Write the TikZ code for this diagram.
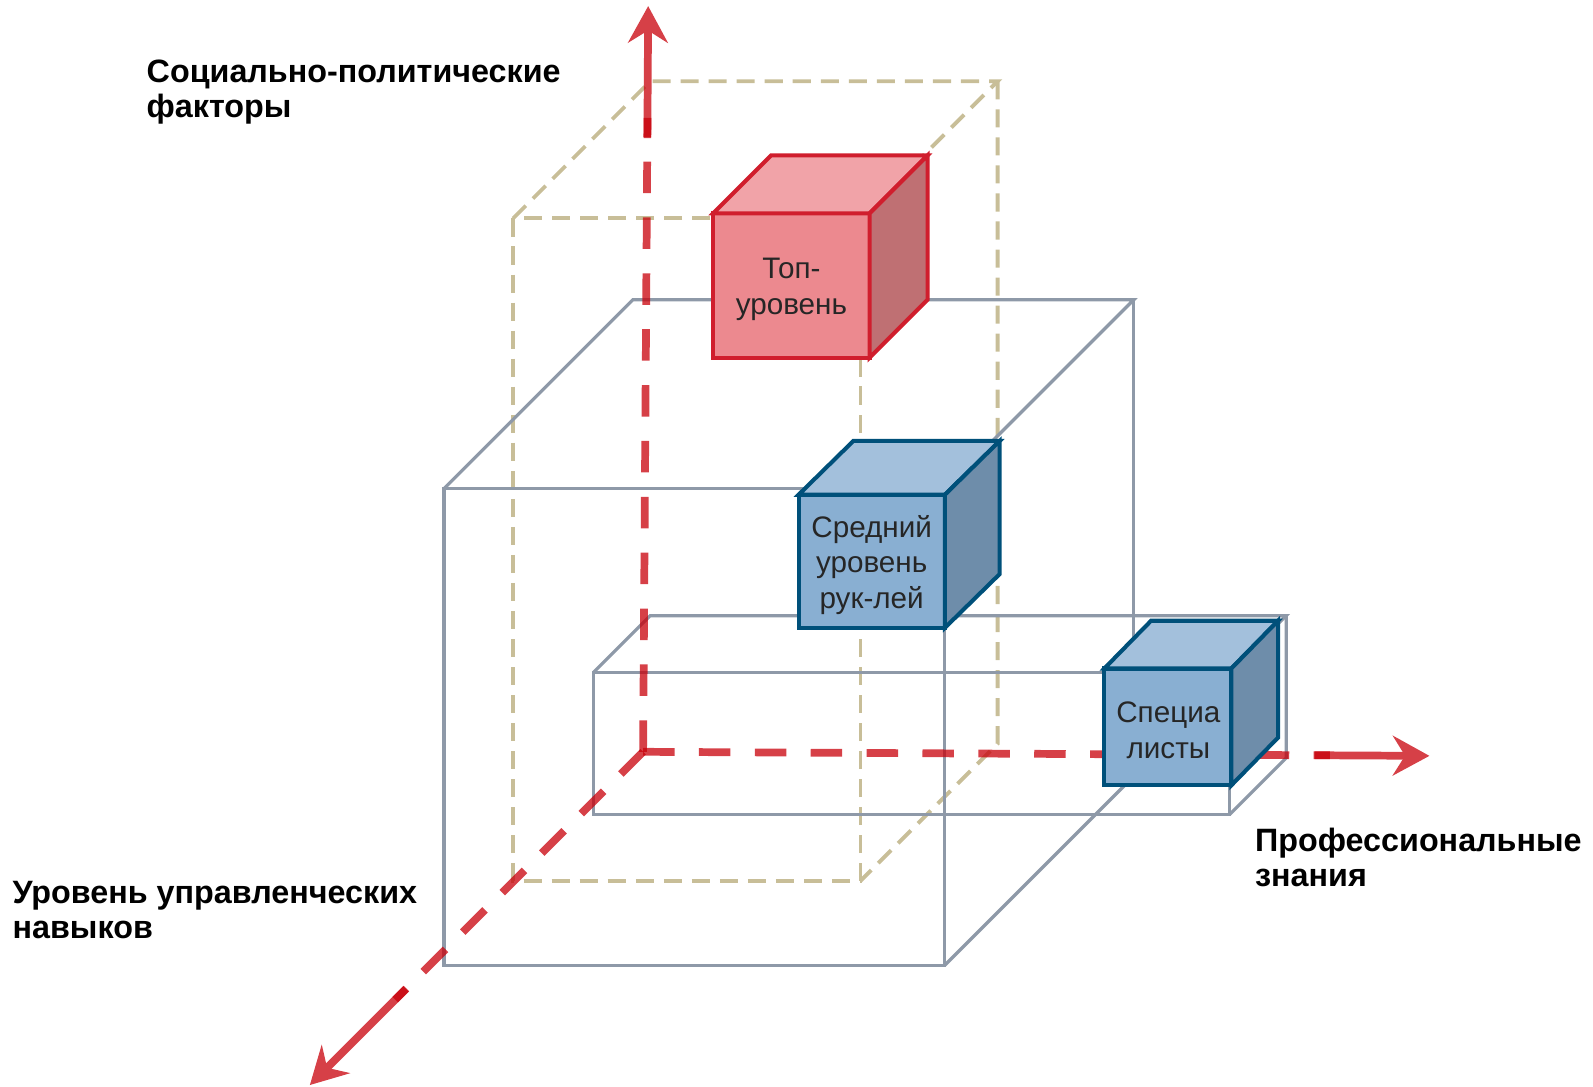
\documentclass[tikz,border=0pt]{standalone}
\usepackage{fontspec}
\setmainfont{Liberation Sans}
\usetikzlibrary{arrows.meta}
\definecolor{grayline}{RGB}{142,153,168}
\definecolor{tanline}{RGB}{200,190,152}
\definecolor{axisred}{RGB}{200,0,10}
\definecolor{rfront}{RGB}{236,137,143}
\definecolor{rtop}{RGB}{241,163,168}
\definecolor{rside}{RGB}{191,112,115}
\definecolor{rborder}{RGB}{208,30,45}
\definecolor{bfront}{RGB}{137,175,210}
\definecolor{btop}{RGB}{163,192,220}
\definecolor{bside}{RGB}{110,141,170}
\definecolor{bborder}{RGB}{0,80,122}
\definecolor{cubetext}{RGB}{38,38,38}
\newcommand\mycube[9]{%
  \filldraw[fill=#7] (#1,#2) rectangle (#3,#4);
  \filldraw[fill=#8] (#1,#2) -- (#1+#5,#2-#6) -- (#3+#5,#2-#6) -- (#3,#2) -- cycle;
  \filldraw[fill=#9] (#3,#2) -- (#3+#5,#2-#6) -- (#3+#5,#4-#6) -- (#3,#4) -- cycle;
}
\begin{document}
\begin{tikzpicture}[x=0.5pt,y=-0.5pt,
  graybox/.style={draw=grayline, line width=1.6pt, line join=miter},
  tanbox/.style={draw=tanline, line width=1.9pt, dash pattern=on 8.9pt off 4.9pt},
  axisdash/.style={draw=axisred, line width=3.8pt, dash pattern=on 15.5pt off 12pt},
  axisarrow/.style={draw=axisred, fill=axisred, line width=3.8pt, -{Stealth[length=18pt,width=19.5pt,inset=6pt]}},
  cubeedge/.style={line width=2pt, line join=miter},
  lbl/.style={font=\bfseries\fontsize{15.9}{17.5}\selectfont, anchor=base west, inner sep=0pt},
  cubelbl/.style={font=\fontsize{14.6}{17.5}\selectfont, text=cubetext, align=center, inner sep=0pt}]
\useasboundingbox (0,0) rectangle (1568,1069);
% tan dashed box
\draw[tanbox] (505,215) rectangle (847,867);
\draw[tanbox] (505,215) -- (640,80) -- (982,80) -- (847,215);
\draw[tanbox] (982,80) -- (982,732) -- (847,867);
% big gray box
\draw[graybox] (437,481) rectangle (930,950);
\draw[graybox] (437,481) -- (623,295) -- (1116,295) -- (930,481);
\draw[graybox] (1116,295) -- (1116,662);
\draw[graybox] (930,950) -- (1116,764);
% small gray box
\draw[graybox] (584,662) rectangle (1210,802);
\draw[graybox] (584,662) -- (640,606) -- (1266,606) -- (1210,662);
\draw[graybox] (1266,606) -- (1266,746) -- (1210,802);
% axes
\coordinate (O) at (633,740);
\coordinate (vend) at (637.3,116);
\coordinate (vstart) at (637.2,136);
\coordinate (vtip) at (638,6);
\coordinate (hend) at (1309,743.5);
\coordinate (hstart) at (1294,743.4);
\coordinate (htip) at (1407,744);
\coordinate (dend) at (389,984);
\coordinate (dstart) at (400,973);
\coordinate (dtip) at (305,1068);
\begin{scope}[transparency group, opacity=0.75]\draw[axisdash] (O) -- (vend);\end{scope}
\begin{scope}[transparency group, opacity=0.75]\draw[axisdash] (O) -- (hend);\end{scope}
\begin{scope}[transparency group, opacity=0.75]\draw[axisdash] (O) -- (dend);\end{scope}
\begin{scope}[transparency group, opacity=0.75]\draw[axisarrow] (vstart) -- (vtip);\end{scope}
\begin{scope}[transparency group, opacity=0.75]\draw[axisarrow] (hstart) -- (htip);\end{scope}
\begin{scope}[transparency group, opacity=0.75]\draw[axisarrow] (dstart) -- (dtip);\end{scope}
% cubes
\begin{scope}[cubeedge, draw=rborder]
\mycube{702}{210}{856}{352}{57}{57}{rfront}{rtop}{rside}
\end{scope}
\begin{scope}[cubeedge, draw=bborder]
\mycube{786}{487}{930}{618}{54}{53}{bfront}{btop}{bside}
\mycube{1087}{658}{1212}{773}{46}{47}{bfront}{btop}{bside}
\end{scope}
\node[cubelbl] (topc) at (779,285) {Топ-\\уровень};
\node[cubelbl] (midc) at (858,556) {Средний\\уровень\\рук-лей};
\node[cubelbl] (specc) at (1150,719) {Специа\\листы};
% labels
\node[lbl] (soc1) at (144,81) {Социально-политические};
\node[lbl] (soc2) at (144,116) {факторы};
\node[lbl] (mgmt1) at (12,889) {Уровень управленческих};
\node[lbl] (mgmt2) at (12,924) {навыков};
\node[lbl] (prof1) at (1235,838) {Профессиональные};
\node[lbl] (prof2) at (1235,873) {знания};
\end{tikzpicture}
\end{document}
